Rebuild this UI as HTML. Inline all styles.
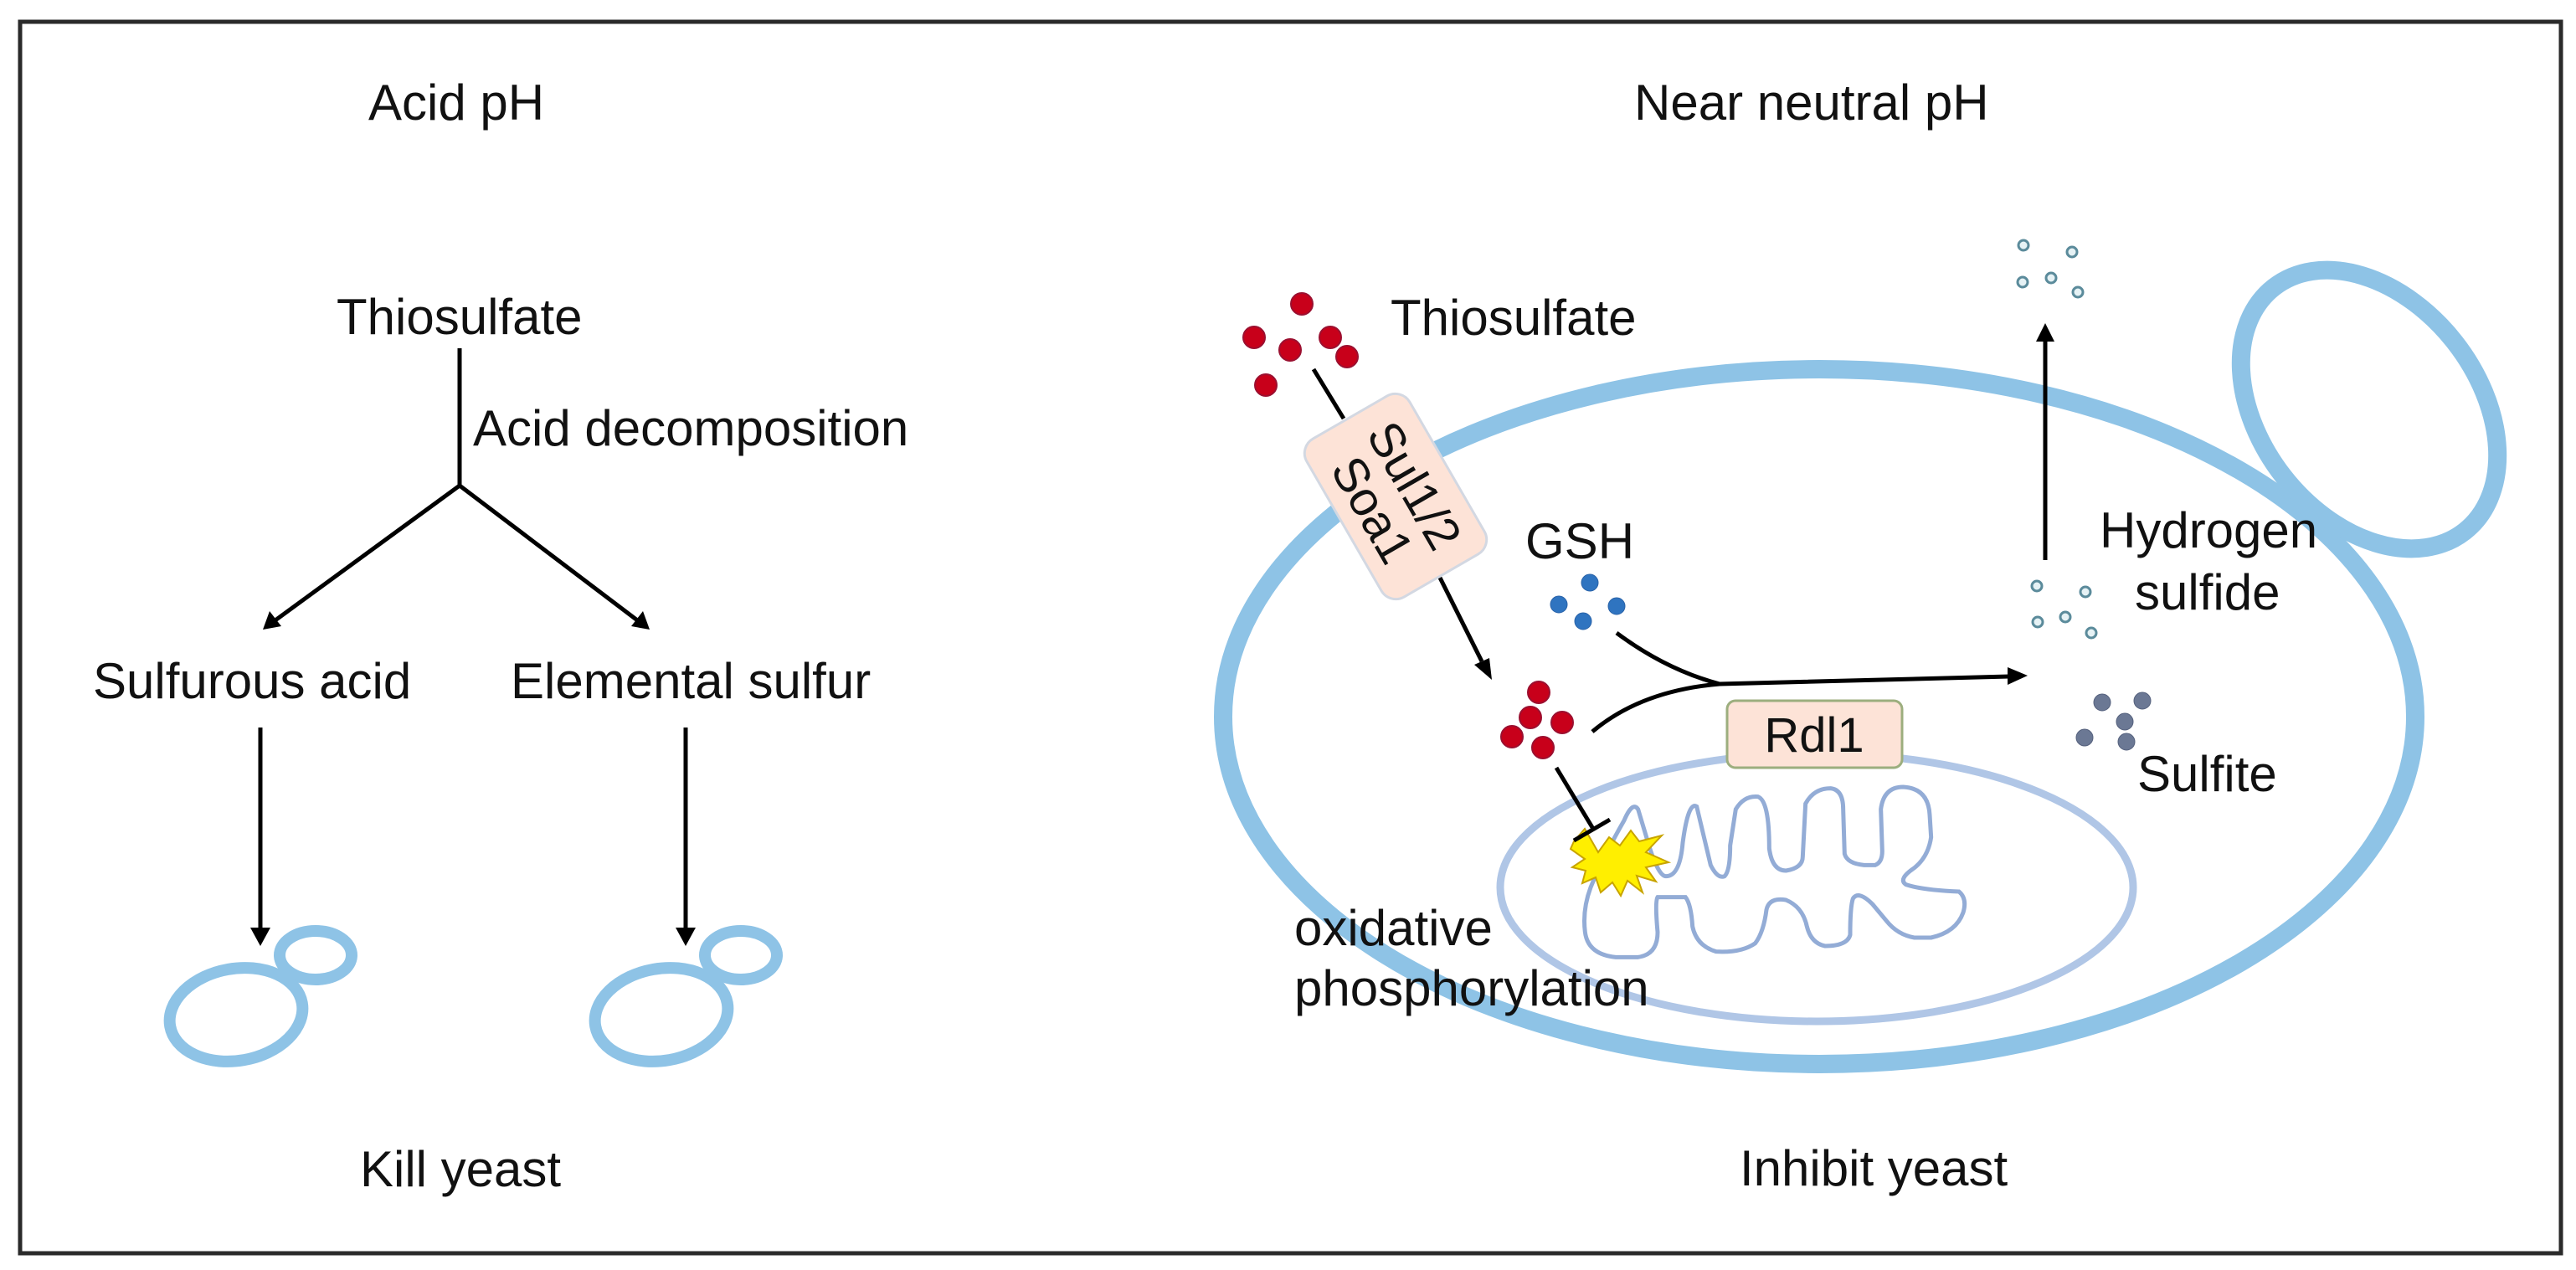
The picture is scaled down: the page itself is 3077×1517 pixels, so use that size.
<!DOCTYPE html>
<html><head><meta charset="utf-8"><style>
html,body{margin:0;padding:0;background:#fff;}
svg{display:block;}
text{font-family:"Liberation Sans",sans-serif;fill:#111;}
</style></head><body>
<svg width="3077" height="1517" viewBox="0 0 3077 1517" xmlns="http://www.w3.org/2000/svg">
<defs>
<marker id="ah" markerWidth="10" markerHeight="10" refX="9" refY="5" orient="auto" markerUnits="userSpaceOnUse" viewBox="0 0 10 10">
</marker>
</defs>
<rect x="0" y="0" width="3077" height="1517" fill="#fff"/>
<rect x="24" y="26" width="3035" height="1471" fill="none" stroke="#2a2a2a" stroke-width="5"/>

<!-- LEFT PANEL -->
<text x="440" y="143" font-size="60">Acid pH</text>
<text x="402" y="399" font-size="60">Thiosulfate</text>
<line x1="549" y1="416" x2="549" y2="580" stroke="#000" stroke-width="5"/>
<text x="565" y="532" font-size="60">Acid decomposition</text>
<line x1="549" y1="580" x2="326" y2="743" stroke="#000" stroke-width="5"/>
<polygon points="314,752 322,730 336,748" fill="#000"/>
<line x1="549" y1="580" x2="764" y2="743" stroke="#000" stroke-width="5"/>
<polygon points="776,752 754,748 768,730" fill="#000"/>
<text x="111" y="834" font-size="60">Sulfurous acid</text>
<text x="610" y="834" font-size="60">Elemental sulfur</text>
<line x1="311" y1="869" x2="311" y2="1112" stroke="#000" stroke-width="5"/>
<polygon points="299,1108 323,1108 311,1130" fill="#000"/>
<line x1="819" y1="869" x2="819" y2="1112" stroke="#000" stroke-width="5"/>
<polygon points="807,1108 831,1108 819,1130" fill="#000"/>
<g fill="none" stroke="#8ec3e6" stroke-width="14">
<ellipse cx="377" cy="1141" rx="43" ry="29"/>
<ellipse cx="282" cy="1212" rx="80" ry="55" transform="rotate(-10 282 1212)"/>
<ellipse cx="885" cy="1141" rx="43" ry="29"/>
<ellipse cx="790" cy="1212" rx="80" ry="55" transform="rotate(-10 790 1212)"/>
</g>
<text x="430" y="1417" font-size="60">Kill yeast</text>

<!-- RIGHT PANEL -->
<text x="1952" y="143" font-size="60">Near neutral pH</text>

<!-- cell -->
<ellipse cx="2173" cy="856" rx="712" ry="415" fill="none" stroke="#8ec3e6" stroke-width="22"/>
<ellipse cx="2830" cy="489" rx="185" ry="130" transform="rotate(52 2830 489)" fill="none" stroke="#8ec3e6" stroke-width="22"/>

<!-- mitochondrion -->
<ellipse cx="2170" cy="1060" rx="378" ry="160" fill="none" stroke="#b0c6e6" stroke-width="9"/>
<g transform="translate(1880,900) scale(0.33333)">
<path d="M180,240 Q210,170 230,200 L260,300 Q300,440 330,440 Q380,440 390,320 Q410,170 440,190 L490,400 Q515,450 540,440 Q560,420 560,330 L580,200 Q610,150 660,155 Q700,170 700,340 Q710,420 760,420 Q820,410 820,370 L830,180 Q860,125 920,125 Q965,130 965,200 L970,360 Q980,395 1040,400 L1080,400 Q1105,390 1105,350 L1100,200 Q1110,120 1180,120 Q1270,125 1275,220 L1280,300 Q1270,370 1220,410 Q1160,450 1190,470 Q1250,490 1380,495 Q1410,520 1395,570 Q1370,640 1280,660 L1220,660 Q1160,650 1120,600 L1070,540 Q1020,490 1000,520 Q990,550 990,650 Q980,690 900,690 Q850,680 835,620 Q820,550 760,525 Q700,515 690,560 Q680,640 650,680 Q600,715 510,710 Q440,690 425,620 Q420,540 400,515 L300,515 Q290,530 300,640 Q300,720 230,730 L150,730 Q50,720 40,640 Q30,560 60,480 Q100,380 180,240 Z" fill="none" stroke="#93acd6" stroke-width="15"/>
</g>

<!-- thiosulfate outside -->
<g fill="#c8001a" stroke="#9b1030" stroke-width="2">
<circle cx="1555" cy="363" r="13"/>
<circle cx="1498" cy="403" r="13"/>
<circle cx="1541" cy="418" r="13"/>
<circle cx="1589" cy="403" r="13"/>
<circle cx="1609" cy="426" r="13"/>
<circle cx="1512" cy="460" r="13"/>
</g>
<text x="1661" y="400" font-size="60">Thiosulfate</text>
<line x1="1569" y1="441" x2="1605" y2="500" stroke="#000" stroke-width="5"/>
<line x1="1720" y1="690" x2="1770" y2="790" stroke="#000" stroke-width="5"/>
<polygon points="1782,812 1761,794 1779,786" fill="#000"/>

<!-- transporter box -->
<g transform="translate(1667,593) rotate(60)">
<rect x="-109" y="-71" width="218" height="142" rx="20" ry="20" fill="#fde3d7" stroke="#d3d8e2" stroke-width="3"/>
<text x="0" y="-6" font-size="58" text-anchor="middle">Sul1/2</text>
<text x="0" y="52" font-size="58" text-anchor="middle">Soa1</text>
</g>

<!-- GSH -->
<text x="1822" y="667" font-size="60">GSH</text>
<g fill="#2f74c0" stroke="#2a63a8" stroke-width="1">
<circle cx="1899" cy="696" r="10"/>
<circle cx="1862" cy="722" r="10"/>
<circle cx="1931" cy="724" r="10"/>
<circle cx="1891" cy="742" r="10"/>
</g>

<!-- inside thiosulfate -->
<g fill="#c8001a" stroke="#9b1030" stroke-width="2">
<circle cx="1838" cy="827" r="13"/>
<circle cx="1828" cy="857" r="13"/>
<circle cx="1866" cy="863" r="13"/>
<circle cx="1806" cy="880" r="13"/>
<circle cx="1843" cy="893" r="13"/>
</g>

<!-- reaction curves -->
<path d="M1931,756 Q1990,800 2054,817" fill="none" stroke="#000" stroke-width="5"/>
<path d="M1902,874 Q1960,825 2054,817 L2400,808" fill="none" stroke="#000" stroke-width="5"/>
<polygon points="2422,807 2398,797 2398,818" fill="#000"/>

<!-- Rdl1 -->
<rect x="2063" y="837" width="209" height="80" rx="10" ry="10" fill="#fde3d7" stroke="#9cae7e" stroke-width="3"/>
<text x="2167" y="898" font-size="58" text-anchor="middle">Rdl1</text>

<!-- inhibition -->
<line x1="1859" y1="917" x2="1903" y2="990" stroke="#000" stroke-width="5"/>
<polygon points="1880,1005 1893,990 1909,1018 1922,1000 1935,1010 1948,992 1958,1005 1985,998 1966,1018 1993,1030 1966,1036 1978,1053 1955,1046 1962,1066 1944,1052 1936,1070 1926,1054 1912,1066 1906,1048 1890,1055 1894,1040 1878,1036 1893,1026 1876,1014" fill="#ffef00" stroke="#c8a400" stroke-width="2"/>
<line x1="1880" y1="1004" x2="1923" y2="979" stroke="#000" stroke-width="5"/>
<text x="1546" y="1129" font-size="60">oxidative</text>
<text x="1546" y="1201" font-size="60">phosphorylation</text>

<!-- H2S -->
<g fill="#e6f2f5" stroke="#5b8b9b" stroke-width="3">
<circle cx="2417" cy="293" r="6"/>
<circle cx="2475" cy="301" r="6"/>
<circle cx="2416" cy="337" r="6"/>
<circle cx="2450" cy="332" r="6"/>
<circle cx="2482" cy="349" r="6"/>
<circle cx="2433" cy="700" r="6"/>
<circle cx="2491" cy="707" r="6"/>
<circle cx="2434" cy="743" r="6"/>
<circle cx="2467" cy="737" r="6"/>
<circle cx="2498" cy="756" r="6"/>
</g>
<line x1="2443" y1="669" x2="2443" y2="405" stroke="#000" stroke-width="5"/>
<polygon points="2443,386 2432,408 2454,408" fill="#000"/>
<text x="2508" y="654" font-size="60">Hydrogen</text>
<text x="2550" y="728" font-size="60">sulfide</text>

<!-- sulfite -->
<g fill="#6b7894" stroke="#55617d" stroke-width="1">
<circle cx="2511" cy="839" r="10"/>
<circle cx="2559" cy="837" r="10"/>
<circle cx="2538" cy="862" r="10"/>
<circle cx="2490" cy="881" r="10"/>
<circle cx="2540" cy="886" r="10"/>
</g>
<text x="2553" y="945" font-size="60">Sulfite</text>

<text x="2078" y="1416" font-size="60">Inhibit yeast</text>
</svg>
</body></html>
